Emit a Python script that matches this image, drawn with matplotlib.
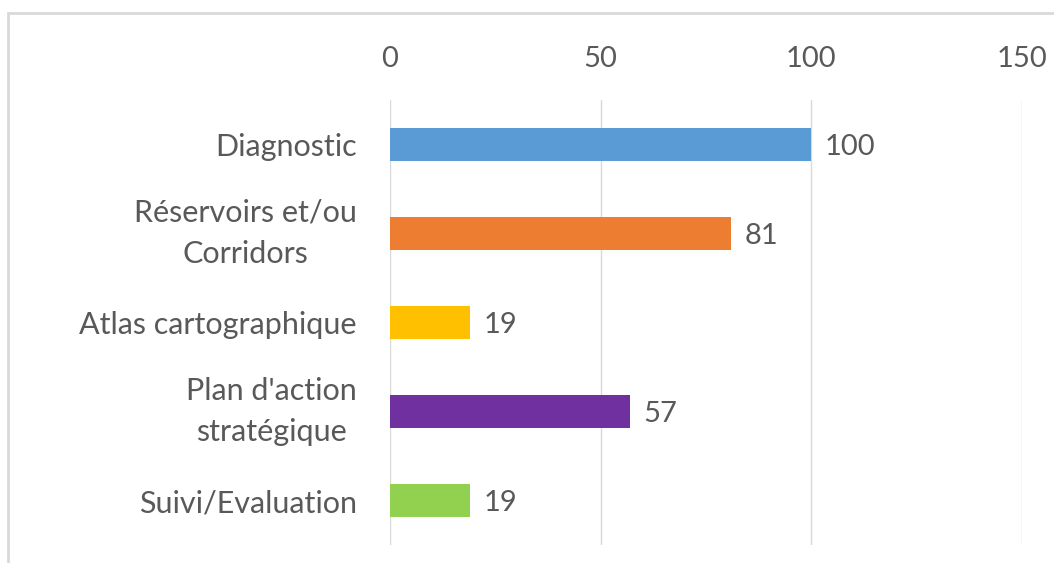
import matplotlib.pyplot as plt
from matplotlib.patches import Rectangle

# Données du graphique
categories = ["Diagnostic", "Réservoirs et/ou\nCorridors", "Atlas cartographique",
              "Plan d'action\nstratégique", "Suivi/Evaluation"]
valeurs = [100, 81, 19, 57, 19]
couleurs = ["#5B9BD5", "#ED7D31", "#FFC000", "#7030A0", "#92D050"]
graduations = [0, 50, 100, 150]

gris = "#595959"
plt.rcParams["font.family"] = ["Lato", "DejaVu Sans"]

fig = plt.figure(figsize=(10.54, 5.63), dpi=100)
ax = fig.add_axes([390 / 1054, 18 / 563, 632 / 1054, 445 / 563])

# Cadre gris clair autour du graphique
fig.patches.append(Rectangle((8 / 1054, -0.1), 1.2, 1 - 13 / 563 + 0.1,
                             transform=fig.transFigure, fill=False,
                             edgecolor="#D9D9D9", linewidth=2))

pos = list(range(len(categories)))
ax.barh(pos, valeurs, height=0.36, color=couleurs, zorder=3)
for p, v in zip(pos, valeurs):
    ax.text(v + 3.2, p, str(v), va="center_baseline", ha="left",
            fontsize=21, color=gris)

ax.set_xlim(0, 150)
ax.set_ylim(len(categories) - 0.5, -0.5)
ax.set_xticks(graduations)
ax.set_yticks(pos)
ax.set_yticklabels(categories, multialignment="center", linespacing=1.6)
# les étiquettes sur deux lignes sont centrées sur leur barre
for lab in ax.get_yticklabels():
    if "\n" in lab.get_text():
        lab.set_va("center")
ax.xaxis.tick_top()
ax.tick_params(axis="x", length=0, pad=20, labelsize=21, labelcolor=gris)
ax.tick_params(axis="y", length=0, pad=24, labelsize=22, labelcolor=gris)
ax.grid(axis="x", color="#D9D9D9", linewidth=1, zorder=0)
for s in ax.spines.values():
    s.set_visible(False)

fig.savefig("out.png", dpi=100)
